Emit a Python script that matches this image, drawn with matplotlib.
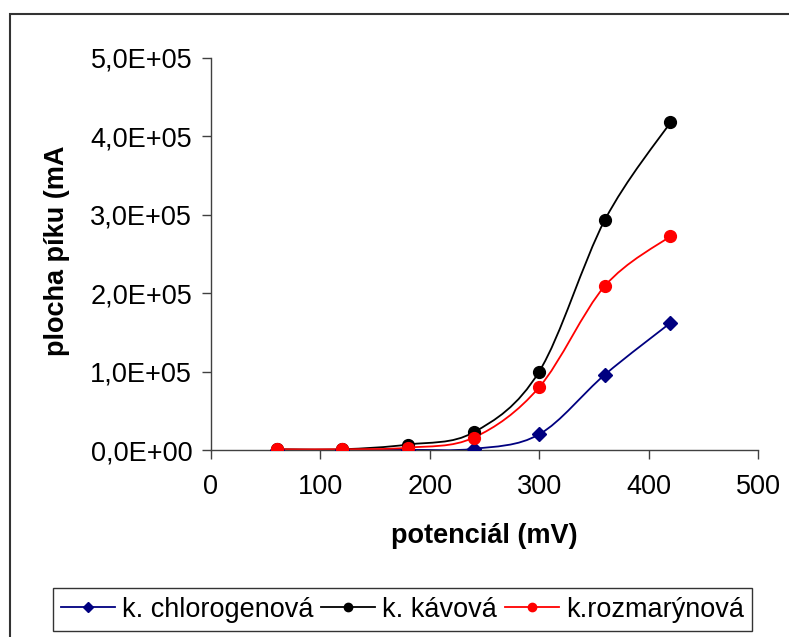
import numpy as np
import matplotlib
matplotlib.use("Agg")
import matplotlib.pyplot as plt
from matplotlib.path import Path
from matplotlib.patches import PathPatch, Rectangle
from matplotlib.lines import Line2D
from matplotlib.ticker import FuncFormatter

plt.rcParams['font.family'] = ['Liberation Sans', 'DejaVu Sans']

# data
potencial = [60, 120, 180, 240, 300, 360, 420]
chlorogenova = [0, 0, 300, 1500, 20000, 96000, 162000]
kavova = [1000, 1000, 7000, 22500, 100000, 293000, 417500]
rozmarynova = [1000, 1000, 3000, 15700, 80000, 209000, 272500]

series = [
    ("k. chlorogenová", chlorogenova, "#000080", "D"),
    ("k. kávová", kavova, "black", "o"),
    ("k.rozmarýnová", rozmarynova, "#FF0000", "o"),
]

FS = 19.5


def smooth_path(xs, ys):
    # Excel-like smoothed line: Catmull-Rom style cubic Bezier segments
    pts = np.column_stack([xs, ys]).astype(float)
    n = len(pts)
    verts = [pts[0]]
    codes = [Path.MOVETO]
    for i in range(n - 1):
        p_prev = pts[i - 1] if i > 0 else pts[i]
        p_next2 = pts[i + 2] if i + 2 < n else pts[i + 1]
        c1 = pts[i] + (pts[i + 1] - p_prev) / 6.0
        c2 = pts[i + 1] - (p_next2 - pts[i]) / 6.0
        verts += [c1, c2, pts[i + 1]]
        codes += [Path.CURVE4] * 3
    return Path(verts, codes)


fig = plt.figure(figsize=(7.89, 6.37), dpi=100)
ax = fig.add_axes([0.2674, 0.2935, 0.6933, 0.6162])

handles = []
for name, vals, col, mk in series:
    patch = PathPatch(smooth_path(potencial, vals), facecolor="none",
                      edgecolor=col, lw=1.3, zorder=2)
    ax.add_patch(patch)
    ax.plot(potencial, vals, ls="none", marker=mk, color=col,
            markersize=8.5 if mk == "o" else 7.5, zorder=3)
    handles.append(Line2D([], [], color=col, lw=1.3, marker=mk,
                          markersize=6 if mk == "o" else 5.5))

ax.set_xlim(0, 500)
ax.set_ylim(0, 500000)
ax.set_xticks([0, 100, 200, 300, 400, 500])
ax.set_yticks([0, 100000, 200000, 300000, 400000, 500000])
ax.yaxis.set_major_formatter(FuncFormatter(
    lambda v, p: ("%.1E" % v).replace(".", ",")))

for s in ["top", "right"]:
    ax.spines[s].set_visible(False)
for s in ["left", "bottom"]:
    ax.spines[s].set_color("#404040")
    ax.spines[s].set_linewidth(1.0)
ax.tick_params(axis="both", direction="out", length=6.5, width=1.0,
               color="#404040", labelsize=FS, pad=7)
ax.tick_params(axis="x", pad=11)

ax.set_xlabel("potenciál (mV)", fontsize=FS, fontweight="bold", labelpad=16)
fig.text(0.072, 0.606, "plocha píku (mA", rotation=90, fontsize=FS,
         fontweight="bold", ha="center", va="center")

leg = fig.legend(handles, [s[0] for s in series], loc="center",
                 bbox_to_anchor=(0.51, 0.043), ncol=3, fontsize=FS,
                 frameon=True, fancybox=False, edgecolor="black",
                 handlelength=2.0, handletextpad=0.25, columnspacing=0.3,
                 borderpad=0.3, borderaxespad=0)
leg.get_frame().set_linewidth(1.0)

# outer chart border (only top and left edges fall inside the picture)
fig.patches.append(Rectangle((9.5 / 789, -0.1), 1.2, 1 - 13.5 / 637 + 0.1,
                             transform=fig.transFigure, fill=False,
                             edgecolor="#333333", lw=1.5))

fig.savefig("out.png", dpi=100)
